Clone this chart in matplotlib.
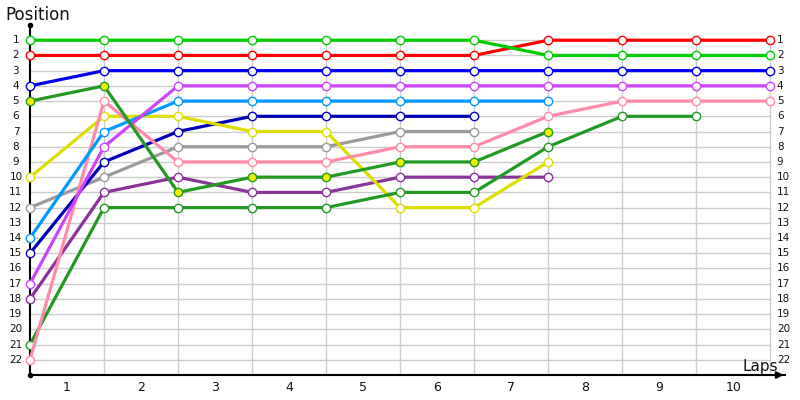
import matplotlib.pyplot as plt

# positions per lap (lap 0 = start), series end when driver retires
laps_labels = ["1", "2", "3", "4", "5", "6", "7", "8", "9", "10"]
positions = list(range(1, 23))

green_a = [1, 1, 1, 1, 1, 1, 1, 2, 2, 2, 2]
red = [2, 2, 2, 2, 2, 2, 2, 1, 1, 1, 1]
blue = [4, 3, 3, 3, 3, 3, 3, 3, 3, 3, 3]
violet = [17, 8, 4, 4, 4, 4, 4, 4, 4, 4, 4]
pink = [22, 5, 9, 9, 9, 8, 8, 6, 5, 5, 5]
green_b = [21, 12, 12, 12, 12, 11, 11, 8, 6, 6]
sky = [14, 7, 5, 5, 5, 5, 5, 5]
green_y = [5, 4, 11, 10, 10, 9, 9, 7]
yellow = [10, 6, 6, 7, 7, 12, 12, 9]
plum = [18, 11, 10, 11, 11, 10, 10, 10]
navy = [15, 9, 7, 6, 6, 6, 6]
grey = [12, 10, 8, 8, 8, 7, 7]

series = [
    (grey, "#9a9a9a", "white"),
    (navy, "#0000bb", "white"),
    (plum, "#8a3399", "white"),
    (yellow, "#dddd00", "white"),
    (green_b, "#229a22", "white"),
    (pink, "#ff8aaa", "white"),
    (sky, "#0099ff", "white"),
    (violet, "#cc44ff", "white"),
    (green_y, "#229a22", "#f0f000"),
    (blue, "#0000ee", "white"),
    (red, "#ff0000", "white"),
    (green_a, "#00cc00", "white"),
]

fig = plt.figure(figsize=(8, 4), dpi=100)
ax = fig.add_axes([30 / 800, 25 / 400, 755 / 800, 350 / 400])
ax.set_xlim(0, 10.2)
ax.set_ylim(23, 0)

# grid
ax.hlines(positions, 0, 10, color="#cccccc", lw=1, zorder=1)
ax.vlines(range(1, 11), 1, 23, color="#cccccc", lw=1, zorder=1)

for i, (vals, color, face) in enumerate(series):
    ax.plot(range(len(vals)), vals, color=color, lw=2.3, marker="o", ms=6,
            mfc=face, mec=color, mew=1, zorder=3 + i, clip_on=False)

for s in ("top", "right"):
    ax.spines[s].set_visible(False)
ax.spines["left"].set_bounds(0, 23)
ax.spines["left"].set_linewidth(1.5)
ax.spines["bottom"].set_linewidth(1.5)
ax.set_xticks([])
ax.set_yticks([])

# axis ends
ax.plot([0], [0], "o", color="black", ms=3, clip_on=False, zorder=20)
ax.plot([0], [23], "o", color="black", ms=3, clip_on=False, zorder=20)
ax.annotate("", xy=(10.22, 23), xytext=(10.0, 23),
            arrowprops=dict(arrowstyle="-|>", color="black", lw=1.5,
                            mutation_scale=10),
            annotation_clip=False)

# tick labels
for p in positions:
    ax.text(-0.19, p, str(p), ha="center", va="center", fontsize=7.5,
            color="#111111", clip_on=False)
    ax.text(10.09, p, str(p), ha="left", va="center", fontsize=7.5,
            color="#111111", clip_on=False)
for i, lab in enumerate(laps_labels):
    ax.text(i + 0.5, 23.85, lab, ha="center", va="center", fontsize=9,
            color="#111111", clip_on=False)

fig.text(5 / 800, 1 - 15 / 400, "Position", ha="left", va="center",
         fontsize=12, color="#111111")
fig.text(760 / 800, 1 - 367 / 400, "Laps", ha="center", va="center",
         fontsize=11, color="#111111")

fig.savefig("out.png", dpi=100)
